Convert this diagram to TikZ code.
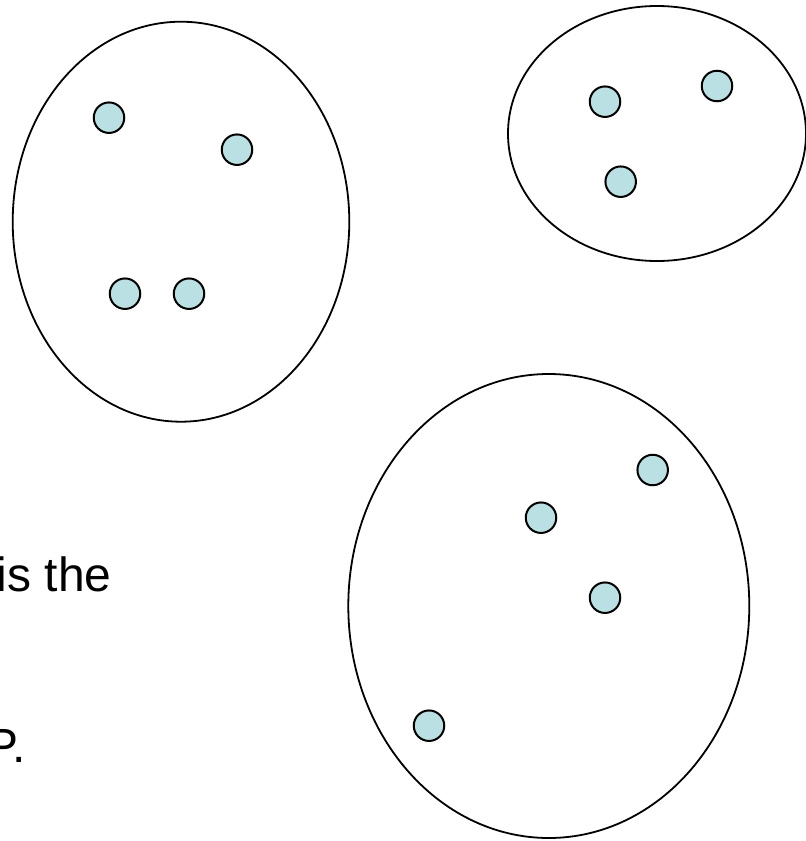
\documentclass[tikz,border=0pt]{standalone}
\usepackage{fontspec}
\setmainfont{Liberation Sans}
\usetikzlibrary{shapes.geometric}
\definecolor{dotfill}{RGB}{187,224,227}
\tikzset{
  grp/.style={draw=black, line width=1.8pt, ellipse, inner sep=0pt, fill=none},
  dot/.style={draw=black, line width=2pt, circle, fill=dotfill, inner sep=0pt, minimum size=30.5pt},
  txt/.style={anchor=base west, inner sep=0pt, font=\fontsize{48}{58}\selectfont}
}
\begin{document}
\begin{tikzpicture}[x=1pt,y=-1pt]
\useasboundingbox (0,0) rectangle (806,841);
% groups
\node[grp, minimum width=336.6pt, minimum height=400pt] (g1) at (181,221.7) {};
\node[grp, minimum width=298pt, minimum height=255pt] (g2) at (657,133.5) {};
\node[grp, minimum width=401pt, minimum height=464pt] (g3) at (548.8,606) {};
% points in group 1
\node[dot] (a1) at (109,117.7) {};
\node[dot] (a2) at (237,149.7) {};
\node[dot] (a3) at (125,293.7) {};
\node[dot] (a4) at (189,293.7) {};
% points in group 2
\node[dot] (b1) at (605,101.7) {};
\node[dot] (b2) at (717,86) {};
\node[dot] (b3) at (620.7,181.7) {};
% points in group 3
\node[dot] (c1) at (652.7,470) {};
\node[dot] (c2) at (541,517.7) {};
\node[dot] (c3) at (605,597.7) {};
\node[dot] (c4) at (429,725.7) {};
% partial text
\node[txt] (t1) at (-3.2,591) {is the};
\node[txt] (t2) at (-13.8,762) {P.};
\end{tikzpicture}
\end{document}
